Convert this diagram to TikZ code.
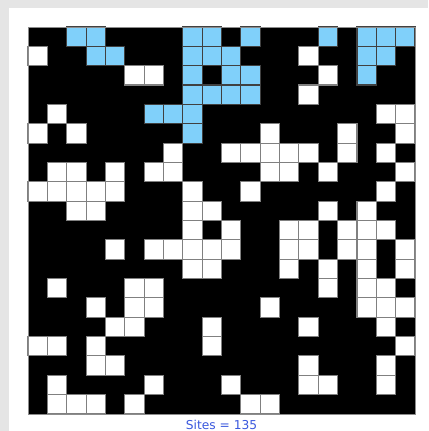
\documentclass[tikz,border=0pt]{standalone}
\usepackage{fontspec}
\newfontfamily\labelfont{DejaVu Sans}
\definecolor{fullblue}{RGB}{128,208,250}
\definecolor{sitesblue}{RGB}{58,88,222}

\begin{document}
\begin{tikzpicture}[x=0.5cm,y=0.5cm,
  opensite/.style={fill=white,draw=black!50,line width=0.8pt},
  fullsite/.style={fill=fullblue,draw=black!75,line width=0.8pt}]
\useasboundingbox (-1.447,-0.879) rectangle (20.672,21.395);
% window frame
\fill[black!10] (-1.447,-0.879) rectangle (20.672,21.395);
\fill[white] (-0.98,-0.879) rectangle (20.672,20.98);
% blocked sites
\fill[black] (0,0) rectangle (20,20);
% full sites
\draw[fullsite] (2,19) rectangle ++(1,1) (3,19) rectangle ++(1,1) (8,19) rectangle ++(1,1) (9,19) rectangle ++(1,1) (11,19) rectangle ++(1,1) (15,19) rectangle ++(1,1) (17,19) rectangle ++(1,1) (18,19) rectangle ++(1,1) (19,19) rectangle ++(1,1);
\draw[fullsite] (3,18) rectangle ++(1,1) (4,18) rectangle ++(1,1) (8,18) rectangle ++(1,1) (9,18) rectangle ++(1,1) (10,18) rectangle ++(1,1) (17,18) rectangle ++(1,1) (18,18) rectangle ++(1,1);
\draw[fullsite] (8,17) rectangle ++(1,1) (10,17) rectangle ++(1,1) (11,17) rectangle ++(1,1) (17,17) rectangle ++(1,1);
\draw[fullsite] (8,16) rectangle ++(1,1) (9,16) rectangle ++(1,1) (10,16) rectangle ++(1,1) (11,16) rectangle ++(1,1);
\draw[fullsite] (6,15) rectangle ++(1,1) (7,15) rectangle ++(1,1) (8,15) rectangle ++(1,1);
\draw[fullsite] (8,14) rectangle ++(1,1);
% open sites
\draw[opensite] (0,18) rectangle ++(1,1) (14,18) rectangle ++(1,1);
\draw[opensite] (5,17) rectangle ++(1,1) (6,17) rectangle ++(1,1) (15,17) rectangle ++(1,1);
\draw[opensite] (14,16) rectangle ++(1,1);
\draw[opensite] (1,15) rectangle ++(1,1) (18,15) rectangle ++(1,1) (19,15) rectangle ++(1,1);
\draw[opensite] (0,14) rectangle ++(1,1) (2,14) rectangle ++(1,1) (12,14) rectangle ++(1,1) (16,14) rectangle ++(1,1) (19,14) rectangle ++(1,1);
\draw[opensite] (7,13) rectangle ++(1,1) (10,13) rectangle ++(1,1) (11,13) rectangle ++(1,1) (12,13) rectangle ++(1,1) (13,13) rectangle ++(1,1) (14,13) rectangle ++(1,1) (16,13) rectangle ++(1,1) (18,13) rectangle ++(1,1);
\draw[opensite] (1,12) rectangle ++(1,1) (2,12) rectangle ++(1,1) (4,12) rectangle ++(1,1) (6,12) rectangle ++(1,1) (7,12) rectangle ++(1,1) (12,12) rectangle ++(1,1) (13,12) rectangle ++(1,1) (15,12) rectangle ++(1,1) (19,12) rectangle ++(1,1);
\draw[opensite] (0,11) rectangle ++(1,1) (1,11) rectangle ++(1,1) (2,11) rectangle ++(1,1) (3,11) rectangle ++(1,1) (4,11) rectangle ++(1,1) (8,11) rectangle ++(1,1) (11,11) rectangle ++(1,1) (18,11) rectangle ++(1,1);
\draw[opensite] (2,10) rectangle ++(1,1) (3,10) rectangle ++(1,1) (8,10) rectangle ++(1,1) (9,10) rectangle ++(1,1) (15,10) rectangle ++(1,1) (17,10) rectangle ++(1,1);
\draw[opensite] (8,9) rectangle ++(1,1) (10,9) rectangle ++(1,1) (13,9) rectangle ++(1,1) (14,9) rectangle ++(1,1) (16,9) rectangle ++(1,1) (17,9) rectangle ++(1,1) (18,9) rectangle ++(1,1);
\draw[opensite] (4,8) rectangle ++(1,1) (6,8) rectangle ++(1,1) (7,8) rectangle ++(1,1) (8,8) rectangle ++(1,1) (9,8) rectangle ++(1,1) (10,8) rectangle ++(1,1) (13,8) rectangle ++(1,1) (14,8) rectangle ++(1,1) (16,8) rectangle ++(1,1) (17,8) rectangle ++(1,1) (19,8) rectangle ++(1,1);
\draw[opensite] (8,7) rectangle ++(1,1) (9,7) rectangle ++(1,1) (13,7) rectangle ++(1,1) (15,7) rectangle ++(1,1) (17,7) rectangle ++(1,1) (19,7) rectangle ++(1,1);
\draw[opensite] (1,6) rectangle ++(1,1) (5,6) rectangle ++(1,1) (6,6) rectangle ++(1,1) (15,6) rectangle ++(1,1) (17,6) rectangle ++(1,1) (18,6) rectangle ++(1,1);
\draw[opensite] (3,5) rectangle ++(1,1) (5,5) rectangle ++(1,1) (6,5) rectangle ++(1,1) (12,5) rectangle ++(1,1) (17,5) rectangle ++(1,1) (18,5) rectangle ++(1,1) (19,5) rectangle ++(1,1);
\draw[opensite] (4,4) rectangle ++(1,1) (5,4) rectangle ++(1,1) (9,4) rectangle ++(1,1) (14,4) rectangle ++(1,1) (18,4) rectangle ++(1,1);
\draw[opensite] (0,3) rectangle ++(1,1) (1,3) rectangle ++(1,1) (3,3) rectangle ++(1,1) (9,3) rectangle ++(1,1) (19,3) rectangle ++(1,1);
\draw[opensite] (3,2) rectangle ++(1,1) (4,2) rectangle ++(1,1) (14,2) rectangle ++(1,1) (18,2) rectangle ++(1,1);
\draw[opensite] (1,1) rectangle ++(1,1) (6,1) rectangle ++(1,1) (10,1) rectangle ++(1,1) (14,1) rectangle ++(1,1) (15,1) rectangle ++(1,1) (18,1) rectangle ++(1,1);
\draw[opensite] (1,0) rectangle ++(1,1) (2,0) rectangle ++(1,1) (3,0) rectangle ++(1,1) (5,0) rectangle ++(1,1) (11,0) rectangle ++(1,1) (12,0) rectangle ++(1,1);
% border and count
\draw[black!45,line width=0.7pt] (0,0) rectangle (20,20);
\node[text=sitesblue,font=\labelfont\fontsize{9}{10}\selectfont] (sites) at (10,-0.55) {Sites = 135};
\end{tikzpicture}
\end{document}
